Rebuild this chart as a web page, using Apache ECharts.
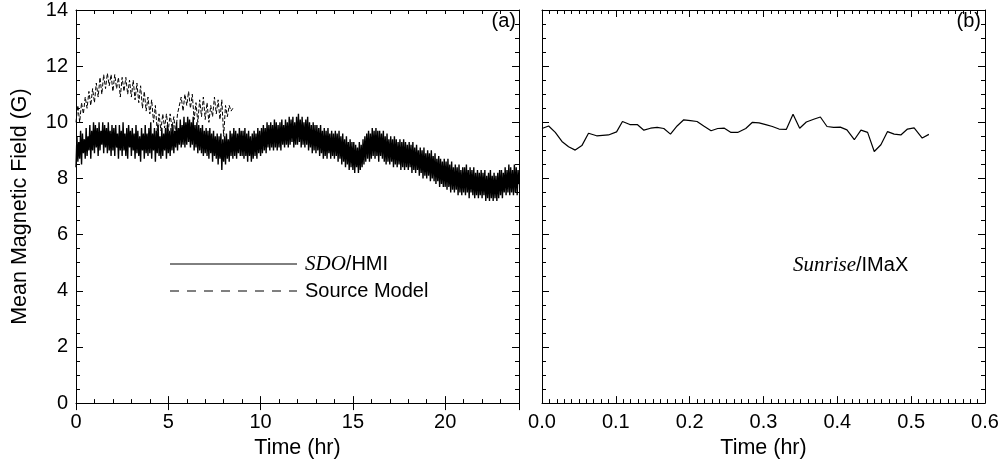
<!DOCTYPE html>
<html>
<head>
<meta charset="utf-8">
<script src="https://cdn.jsdelivr.net/npm/echarts@6/dist/echarts.min.js"></script>
<style>
  html, body { margin: 0; padding: 0; background: #fff; }
  #chart { width: 1004px; height: 464px; }
</style>
</head>
<body>
<div id="chart"></div>
<script>
// (a) SDO/HMI mean field, one sample every 0.05 hr from 0 to 24 hr
const hmiStep = 0.05;
const hmiField = [
  8.4, 9.5, 8.6, 9.3, 8.7, 9.7, 8.5, 9.6, 8.9, 9.4, 8.7, 9.8, 8.8, 9.5, 9.0, 9.9, 8.7, 9.7, 9.0, 10.0,
  8.9, 9.9, 9.1, 9.8, 8.8, 10.0, 9.0, 9.7, 9.2, 10.0, 8.9, 9.9, 9.1, 9.8, 8.9, 10.0, 9.0, 9.7, 8.8, 9.9,
  9.0, 9.8, 8.8, 9.9, 9.1, 9.6, 8.7, 9.9, 9.0, 9.7, 8.8, 10.0, 9.0, 9.6, 8.8, 9.8, 8.7, 9.9, 9.1, 9.7,
  8.8, 9.8, 9.0, 9.6, 8.7, 9.9, 8.9, 9.7, 8.8, 9.5, 8.6, 9.8, 9.0, 9.6, 8.7, 9.9, 8.9, 9.6, 8.8, 9.8,
  8.9, 10.0, 8.7, 9.6, 9.0, 9.8, 8.6, 9.7, 8.9, 9.9, 8.8, 9.5, 8.7, 9.8, 8.8, 9.6, 9.0, 9.8, 8.7, 9.9,
  8.9, 9.7, 8.8, 9.8, 9.0, 9.9, 8.9, 9.7, 9.1, 10.0, 9.0, 9.8, 9.2, 10.1, 9.1, 9.9, 9.2, 10.2, 9.1, 10.0,
  9.2, 10.2, 9.3, 10.1, 9.1, 10.0, 9.2, 10.2, 9.0, 9.9, 9.1, 10.0, 8.9, 9.9, 9.0, 9.8, 8.9, 9.9, 8.8, 9.7,
  8.9, 9.8, 8.8, 9.7, 8.7, 9.8, 8.9, 9.6, 8.6, 9.7, 8.8, 9.5, 8.7, 9.6, 8.5, 9.5, 8.7, 9.6, 8.3, 9.4,
  8.6, 9.5, 8.5, 9.6, 8.7, 9.4, 8.6, 9.7, 8.8, 9.6, 8.7, 9.8, 8.8, 9.7, 8.7, 9.6, 8.9, 9.8, 8.8, 9.7,
  8.8, 9.7, 8.7, 9.8, 8.8, 9.6, 8.6, 9.7, 8.8, 9.5, 8.6, 9.6, 8.7, 9.7, 8.8, 9.6, 8.7, 9.8, 8.9, 9.7,
  8.8, 9.8, 8.9, 9.9, 9.0, 9.8, 8.9, 10.0, 9.1, 9.9, 9.0, 10.0, 9.1, 9.9, 9.0, 10.1, 9.1, 10.0, 9.0, 9.9,
  9.1, 10.0, 9.0, 10.1, 9.2, 9.9, 9.1, 10.1, 9.2, 10.0, 9.1, 10.2, 9.2, 10.1, 9.3, 10.2, 9.1, 10.0, 9.2, 10.2,
  9.2, 10.3, 9.3, 10.1, 9.1, 10.2, 9.2, 10.0, 9.1, 10.1, 9.2, 10.2, 9.0, 10.0, 9.1, 9.9, 8.9, 10.0, 9.0, 9.9,
  8.9, 9.9, 9.0, 9.8, 8.8, 9.9, 8.9, 9.7, 8.7, 9.8, 8.8, 9.7, 8.7, 9.8, 8.9, 9.6, 8.7, 9.7, 8.8, 9.6,
  8.7, 9.7, 8.8, 9.6, 8.6, 9.7, 8.7, 9.5, 8.5, 9.6, 8.6, 9.4, 8.4, 9.5, 8.5, 9.3, 8.3, 9.4, 8.4, 9.3,
  8.3, 9.3, 8.2, 9.2, 8.4, 9.1, 8.2, 9.3, 8.3, 9.2, 8.4, 9.4, 8.5, 9.5, 8.6, 9.6, 8.7, 9.7, 8.6, 9.6,
  8.7, 9.8, 8.8, 9.7, 8.7, 9.8, 8.8, 9.7, 8.6, 9.7, 8.8, 9.6, 8.7, 9.7, 8.6, 9.5, 8.5, 9.6, 8.6, 9.4,
  8.5, 9.5, 8.6, 9.4, 8.4, 9.5, 8.5, 9.4, 8.4, 9.3, 8.5, 9.4, 8.3, 9.3, 8.4, 9.4, 8.3, 9.3, 8.4, 9.2,
  8.3, 9.3, 8.4, 9.2, 8.2, 9.3, 8.3, 9.1, 8.2, 9.2, 8.3, 9.0, 8.1, 9.1, 8.2, 9.0, 8.0, 9.1, 8.1, 8.9,
  8.0, 9.0, 8.1, 8.9, 7.9, 9.0, 8.0, 8.8, 7.9, 8.9, 7.8, 8.7, 7.9, 8.8, 7.7, 8.7, 7.8, 8.6, 7.7, 8.7,
  7.7, 8.6, 7.6, 8.7, 7.7, 8.5, 7.5, 8.6, 7.6, 8.4, 7.5, 8.5, 7.6, 8.4, 7.4, 8.5, 7.5, 8.3, 7.4, 8.4,
  7.5, 8.4, 7.4, 8.5, 7.5, 8.3, 7.3, 8.4, 7.5, 8.3, 7.4, 8.4, 7.3, 8.2, 7.4, 8.3, 7.3, 8.2, 7.4, 8.3,
  7.3, 8.2, 7.4, 8.3, 7.2, 8.1, 7.3, 8.2, 7.2, 8.3, 7.3, 8.1, 7.2, 8.2, 7.3, 8.1, 7.2, 8.2, 7.3, 8.3,
  7.4, 8.3, 7.3, 8.2, 7.5, 8.4, 7.4, 8.3, 7.5, 8.5, 7.4, 8.4, 7.5, 8.3, 7.4, 8.5, 7.5, 8.4, 7.4, 8.3,
  7.8
];

// (a) source model, one sample every 0.1 hr from 0 to 8.5 hr
const modelStep = 0.1;
const modelField = [
  10.0, 10.6, 10.0, 10.7, 10.3, 10.9, 10.5, 11.1, 10.6, 11.2,
  10.7, 11.4, 10.9, 11.6, 11.0, 11.7, 11.2, 11.75, 11.3, 11.7,
  11.1, 11.7, 11.2, 11.6, 10.9, 11.6, 11.1, 11.6, 11.0, 11.5,
  10.9, 11.5, 10.8, 11.4, 10.7, 11.3, 10.5, 11.1, 10.4, 10.9,
  10.3, 10.8, 10.0, 10.6, 9.7, 10.3, 9.7, 10.3, 9.8, 10.3,
  9.7, 10.3, 9.8, 10.2, 9.6, 10.3, 10.3, 10.9, 10.4, 11.0,
  10.6, 11.1, 10.5, 11.0, 10.1, 10.7, 10.0, 10.8, 10.2, 10.9,
  10.1, 10.7, 10.0, 10.6, 10.2, 10.9, 10.3, 10.8, 10.1, 10.8,
  9.5, 10.6, 10.2, 10.6, 10.4, 10.5
];

// (b) Sunrise/IMaX
const imaxTime = [
  0.000, 0.009, 0.018, 0.027, 0.036, 0.045, 0.054, 0.063, 0.074, 0.090,
  0.101, 0.109, 0.119, 0.129, 0.138, 0.147, 0.156, 0.165, 0.174, 0.183,
  0.192, 0.201, 0.210, 0.219, 0.229, 0.238, 0.247, 0.256, 0.265, 0.276,
  0.285, 0.294, 0.303, 0.312, 0.321, 0.331, 0.340, 0.349, 0.358, 0.368,
  0.377, 0.386, 0.395, 0.404, 0.413, 0.423, 0.432, 0.441, 0.450, 0.459,
  0.468, 0.477, 0.486, 0.495, 0.504, 0.515, 0.524
];
const imaxField = [
  9.78, 9.87, 9.64, 9.32, 9.13, 9.01, 9.17, 9.61, 9.52, 9.55,
  9.66, 10.03, 9.92, 9.92, 9.72, 9.79, 9.82, 9.78, 9.58, 9.87,
  10.09, 10.06, 10.03, 9.87, 9.70, 9.78, 9.79, 9.64, 9.64, 9.78,
  10.00, 9.98, 9.92, 9.85, 9.76, 9.75, 10.29, 9.79, 10.01, 10.11,
  10.19, 9.85, 9.82, 9.83, 9.73, 9.38, 9.72, 9.64, 8.96, 9.20,
  9.67, 9.58, 9.55, 9.76, 9.80, 9.44, 9.57
];

const xLabelsA = [0, 5, 10, 15, 20];
const yLabels = [0, 2, 4, 6, 8, 10, 12, 14];

const FONT = "'Liberation Sans', Arial, sans-serif";
const SERIF = "'Liberation Serif', 'DejaVu Serif', serif";

const hmiData = hmiField.map((v, i) => [i * hmiStep, v]);
const modelData = modelField.map((v, i) => [i * modelStep, v]);
const imaxData = imaxTime.map((t, i) => [t, imaxField[i]]);

const black = { color: "#000", width: 1 };
const nameStyle = { fontFamily: FONT, fontSize: 21.5, color: "#000", verticalAlign: "middle" };

function xAxis(grid, pos, opts) {
  return Object.assign({
    type: "value",
    gridIndex: grid,
    position: pos,
    splitLine: { show: false },
    axisLine: { show: true, onZero: false, lineStyle: black },
    axisTick: { show: true, inside: true, length: 7, lineStyle: black },
    axisLabel: { show: false },
  }, opts);
}

function yAxis(grid, pos, showLabel) {
  return {
    type: "value",
    gridIndex: grid,
    position: pos,
    min: 0,
    max: 14,
    interval: 2,
    splitLine: { show: false },
    axisLine: { show: true, onZero: false, lineStyle: black },
    axisTick: { show: true, inside: true, length: 7, lineStyle: black },
    minorTick: { show: true, splitNumber: 4, length: 4, lineStyle: black },
    axisLabel: {
      show: showLabel,
      margin: 8,
      fontFamily: FONT,
      fontSize: 20,
      color: "#000",
      formatter: (v) => (yLabels.includes(v) ? String(v) : ""),
    },
  };
}

const chart = echarts.init(document.getElementById("chart"));

chart.setOption({
  animation: false,
  backgroundColor: "#fff",
  grid: [
    { left: 76, right: 485, top: 10, bottom: 58 },
    { left: 542, right: 19, top: 10, bottom: 58 },
  ],
  xAxis: [
    // panel (a): 1 hr short ticks with labels, 5 hr long ticks
    xAxis(0, "bottom", {
      min: 0, max: 24, interval: 1,
      axisTick: { show: true, inside: true, length: 4, lineStyle: black },
      axisLabel: {
        show: true, margin: 9, fontFamily: FONT, fontSize: 20, color: "#000",
        showMaxLabel: false,
        formatter: (v) => (xLabelsA.includes(v) ? String(v) : ""),
      },
      name: "Time (hr)",
      nameLocation: "middle",
      nameGap: 42,
      nameTextStyle: nameStyle,
    }),
    xAxis(0, "bottom", { min: 0, max: 24, interval: 5, axisLine: { show: false } }),
    xAxis(0, "top", {
      min: 0, max: 24, interval: 1,
      axisTick: { show: true, inside: true, length: 4, lineStyle: black },
    }),
    xAxis(0, "top", { min: 0, max: 24, interval: 5, axisLine: { show: false } }),
    // panel (b)
    xAxis(1, "bottom", {
      min: 0, max: 0.6, interval: 0.1,
      minorTick: { show: true, splitNumber: 10, length: 4, lineStyle: black },
      axisLabel: {
        show: true, margin: 9, fontFamily: FONT, fontSize: 20, color: "#000",
        formatter: (v) => v.toFixed(1),
      },
      name: "Time (hr)",
      nameLocation: "middle",
      nameGap: 42,
      nameTextStyle: nameStyle,
    }),
    xAxis(1, "top", {
      min: 0, max: 0.6, interval: 0.1,
      minorTick: { show: true, splitNumber: 10, length: 4, lineStyle: black },
    }),
  ],
  yAxis: [
    Object.assign(yAxis(0, "left", true), {
      name: "Mean Magnetic Field (G)",
      nameLocation: "middle",
      nameGap: 56,
      nameTextStyle: nameStyle,
    }),
    yAxis(0, "right", false),
    yAxis(1, "left", false),
    yAxis(1, "right", false),
  ],
  series: [
    {
      name: "SDO/HMI",
      type: "line",
      xAxisIndex: 0,
      yAxisIndex: 0,
      showSymbol: false,
      symbol: "none",
      lineStyle: { color: "#000", width: 1.4 },
      data: hmiData,
    },
    {
      name: "Source Model",
      type: "line",
      xAxisIndex: 0,
      yAxisIndex: 0,
      showSymbol: false,
      symbol: "none",
      lineStyle: { color: "#000", width: 1, type: [4, 2] },
      data: modelData,
    },
    {
      name: "Sunrise/IMaX",
      type: "line",
      xAxisIndex: 4,
      yAxisIndex: 2,
      showSymbol: false,
      symbol: "none",
      lineStyle: { color: "#000", width: 1.2 },
      data: imaxData,
    },
  ],
  graphic: [
    { type: "text", x: 516, y: 21, style: { text: "(a)", font: "20px " + FONT, fill: "#000", align: "right", verticalAlign: "middle" } },
    { type: "text", x: 981, y: 21, style: { text: "(b)", font: "20px " + FONT, fill: "#000", align: "right", verticalAlign: "middle" } },
    { type: "line", shape: { x1: 170, y1: 264, x2: 297, y2: 264 }, style: { stroke: "#000", lineWidth: 1 } },
    { type: "line", shape: { x1: 170, y1: 291, x2: 297, y2: 291 }, style: { stroke: "#000", lineWidth: 1, lineDash: [9, 8] } },
    {
      type: "text", x: 305, y: 264,
      style: {
        text: "{i|SDO}{n|/HMI}",
        verticalAlign: "middle",
        rich: {
          i: { fontFamily: SERIF, fontStyle: "italic", fontSize: 21, fill: "#000" },
          n: { fontFamily: FONT, fontSize: 20, fill: "#000" },
        },
      },
    },
    { type: "text", x: 305, y: 291, style: { text: "Source Model", font: "20px " + FONT, fill: "#000", verticalAlign: "middle" } },
    {
      type: "text", x: 793, y: 265,
      style: {
        text: "{i|Sunrise}{n|/IMaX}",
        verticalAlign: "middle",
        rich: {
          i: { fontFamily: SERIF, fontStyle: "italic", fontSize: 21, fill: "#000" },
          n: { fontFamily: FONT, fontSize: 20, fill: "#000" },
        },
      },
    },
  ],
});
</script>
</body>
</html>
